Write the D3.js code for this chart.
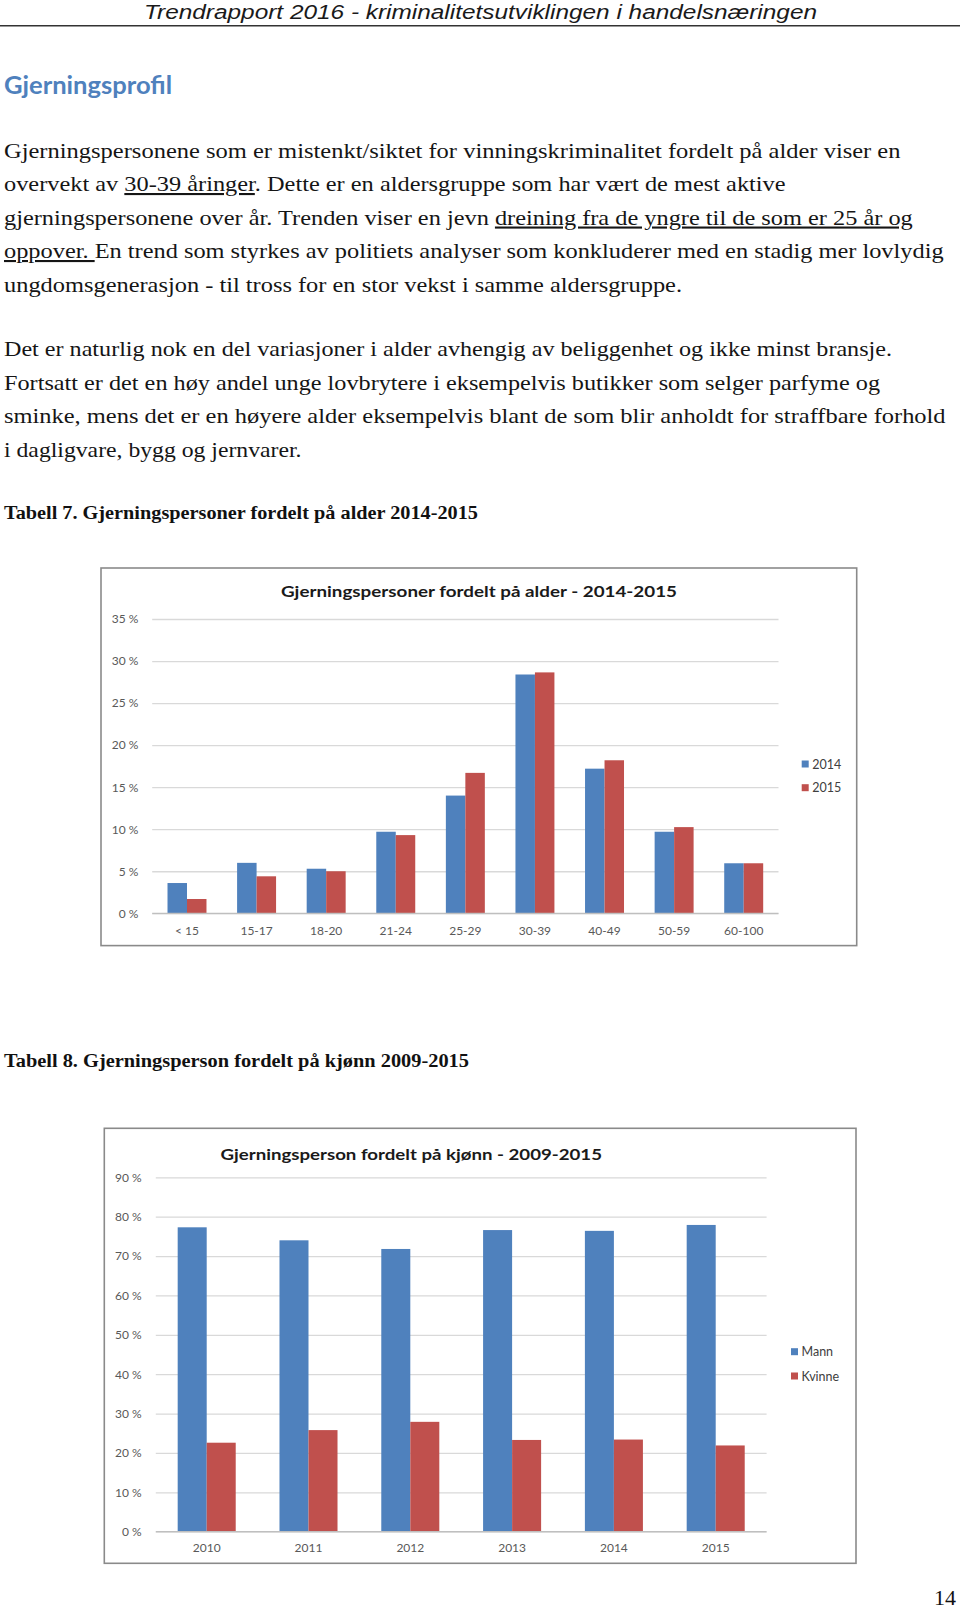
<!DOCTYPE html>
<html><head><meta charset="utf-8">
<script src="https://cdn.jsdelivr.net/npm/d3@7"></script>
<style>body{margin:0;background:#fff}svg{display:block}</style>
</head><body>
<svg id="page" width="960" height="1609"></svg>
<script>
// ---------- data ----------
const ageCategories = ["< 15","15-17","18-20","21-24","25-29","30-39","40-49","50-59","60-100"];
const age2014 = [3.6, 6.0, 5.3, 9.7, 14.0, 28.4, 17.2, 9.7, 5.95];
const age2015 = [1.7, 4.4, 5.0, 9.3, 16.7, 28.65, 18.2, 10.25, 5.95];
const ageSeries = ["2014","2015"];
const ageTicks = [0,5,10,15,20,25,30,35];

const years = ["2010","2011","2012","2013","2014","2015"];
const mann = [77.3, 74.0, 71.8, 76.6, 76.4, 77.9];
const kvinne = [22.6, 25.8, 27.9, 23.3, 23.4, 21.9];
const genderSeries = ["Mann","Kvinne"];
const genderTicks = [0,10,20,30,40,50,60,70,80,90];

const headerText = "Trendrapport 2016 - kriminalitetsutviklingen i handelsnæringen";
const headingText = "Gjerningsprofil";
const bodyLines = [
  [["Gjerningspersonene som er mistenkt/siktet for vinningskriminalitet fordelt på alder viser en",0]],
  [["overvekt av ",0],["30-39 åringer",1],[". Dette er en aldersgruppe som har vært de mest aktive",0]],
  [["gjerningspersonene over år. Trenden viser en jevn ",0],["dreining fra de yngre til de som er 25 år og",1]],
  [["oppover. ",1],["En trend som styrkes av politiets analyser som konkluderer med en stadig mer lovlydig",0]],
  [["ungdomsgenerasjon - til tross for en stor vekst i samme aldersgruppe.",0]],
  [["Det er naturlig nok en del variasjoner i alder avhengig av beliggenhet og ikke minst bransje.",0]],
  [["Fortsatt er det en høy andel unge lovbrytere i eksempelvis butikker som selger parfyme og",0]],
  [["sminke, mens det er en høyere alder eksempelvis blant de som blir anholdt for straffbare forhold",0]],
  [["i dagligvare, bygg og jernvarer.",0]]
];
const table7Caption = "Tabell 7. Gjerningspersoner fordelt på alder 2014-2015";
const table8Caption = "Tabell 8. Gjerningsperson fordelt på kjønn 2009-2015";
const chart1Title = "Gjerningspersoner fordelt på alder - 2014-2015";
const chart2Title = "Gjerningsperson fordelt på kjønn - 2009-2015";
const pageNumber = "14";

// ---------- layout ----------
const svg = d3.select("#page");
svg.append("rect").attr("width",960).attr("height",1609).attr("fill","#fff");

const serif = "'Liberation Serif','DejaVu Serif',serif";
const sans = "Lato,'Open Sans','Liberation Sans',sans-serif";

function fitText(sel, x, y, width){
  sel.attr("x",x).attr("y",y).attr("textLength",width).attr("lengthAdjust","spacingAndGlyphs");
  return sel;
}

// header
fitText(svg.append("text").text(headerText)
  .attr("font-family","'Liberation Sans Narrow','Liberation Sans',sans-serif").attr("font-style","italic")
  .attr("font-size",20.5).attr("fill","#1a1a1a"), 144, 19, 673);
svg.append("line").attr("x1",0).attr("x2",960).attr("y1",25.8).attr("y2",25.8)
  .attr("stroke","#333").attr("stroke-width",1.4);

// heading
fitText(svg.append("text").text(headingText)
  .attr("font-family",sans).attr("font-weight","bold")
  .attr("font-size",24).attr("fill","#4f81bd"), 4, 94, 168);

// body text
const bodyBase = [157.5,191,224.5,258,291.5,356,389.5,423,456.5];
const bodyRight = [900.5,785.6,912.8,943.6,682,892,880,945.6,301.5];
bodyLines.forEach((segs,i)=>{
  const t = svg.append("text").attr("font-family",serif).attr("font-size",21).attr("fill","#151515");
  segs.forEach(s=>{
    const ts = t.append("tspan").text(s[0]);
    if(s[1]) ts.attr("text-decoration","underline");
  });
  fitText(t, 4, bodyBase[i], bodyRight[i]-4);
  t.attr("xml:space","preserve").style("white-space","pre");
});

fitText(svg.append("text").text(table7Caption).attr("font-family",serif).attr("font-weight","bold")
  .attr("font-size",18).attr("fill","#111"), 4, 518.5, 474);
fitText(svg.append("text").text(table8Caption).attr("font-family",serif).attr("font-weight","bold")
  .attr("font-size",18).attr("fill","#111"), 4, 1067, 465);

svg.append("text").text(pageNumber).attr("font-family",serif).attr("font-size",22)
  .attr("fill","#111").attr("x",956).attr("y",1605).attr("text-anchor","end");

// ---------- chart helper ----------
const colors = ["#4f81bd","#c0504d"];
function drawChart(cfg){
  const g = svg.append("g");
  g.append("rect").attr("x",cfg.box[0]).attr("y",cfg.box[1]).attr("width",cfg.box[2]).attr("height",cfg.box[3])
    .attr("fill","#fff").attr("stroke","#8a8a8a").attr("stroke-width",1.6);
  fitText(g.append("text").text(cfg.title).attr("font-family",sans).attr("font-weight","bold")
    .attr("font-size",16).attr("fill","#1a1a1a"), cfg.titlePos[0], cfg.titlePos[1], cfg.titlePos[2]);

  const x = d3.scaleBand().domain(cfg.cats).range([cfg.left,cfg.right])
    .paddingInner(cfg.pad).paddingOuter(cfg.pad/2);
  const xs = d3.scaleBand().domain(cfg.series).range([0,x.bandwidth()]);
  const y = d3.scaleLinear().domain([0,cfg.ticks[cfg.ticks.length-1]]).range([cfg.bottom,cfg.top]);

  // gridlines
  const grid = g.append("g").attr("transform",`translate(${cfg.left},0)`)
    .call(d3.axisLeft(y).tickValues(cfg.ticks).tickSize(-(cfg.right-cfg.left)).tickFormat(""));
  grid.select(".domain").remove();
  grid.selectAll("line").attr("stroke","#d9d9d9").attr("stroke-width",1.3);

  // y labels
  const ya = g.append("g").attr("transform",`translate(${cfg.left},0)`)
    .call(d3.axisLeft(y).tickValues(cfg.ticks).tickSize(0).tickPadding(cfg.left-cfg.labelRight).tickFormat(d=>d+" %"));
  ya.select(".domain").remove();
  ya.selectAll("text").attr("font-family",sans).attr("font-size",12).attr("fill","#595959");

  // bars
  const rows = cfg.cats.map((c,i)=>({cat:c, vals:cfg.values.map((v,j)=>({s:cfg.series[j], v:v[i], j}))}));
  g.selectAll("g.grp").data(rows).join("g").attr("class","grp")
    .attr("transform",d=>`translate(${x(d.cat)},0)`)
    .selectAll("rect").data(d=>d.vals).join("rect")
    .attr("x",d=>xs(d.s)).attr("width",xs.bandwidth())
    .attr("y",d=>y(d.v)).attr("height",d=>y(0)-y(d.v))
    .attr("fill",d=>colors[d.j]);

  // baseline
  g.append("line").attr("x1",cfg.left).attr("x2",cfg.right).attr("y1",y(0)).attr("y2",y(0))
    .attr("stroke","#bfbfbf").attr("stroke-width",1.3);

  // x labels
  const xa = g.append("g").attr("transform",`translate(0,${cfg.bottom})`)
    .call(d3.axisBottom(x).tickSize(0).tickPadding(cfg.xPad));
  xa.select(".domain").remove();
  xa.selectAll("text").attr("font-family",sans).attr("font-size",12).attr("fill","#595959");

  // legend
  const lg = g.append("g");
  cfg.series.forEach((s,i)=>{
    const cy = cfg.legend[1] + i*cfg.legend[2];
    lg.append("rect").attr("x",cfg.legend[0]).attr("y",cy-3.5).attr("width",7).attr("height",7).attr("fill",colors[i]);
    lg.append("text").text(s).attr("x",cfg.legend[0]+10.5).attr("y",cy).attr("dy","0.36em")
      .attr("font-family",sans).attr("font-size",12.5).attr("fill","#404040");
  });
}

drawChart({
  box:[101,568,755.7,377.6], title:chart1Title, titlePos:[281,596.5,396],
  cats:ageCategories, series:ageSeries, values:[age2014,age2015], ticks:ageTicks,
  left:152.2, right:778.5, top:619, bottom:913.3, pad:0.44, labelRight:138.3, xPad:13,
  legend:[801.7,764,23.7]
});

drawChart({
  box:[104.3,1128.3,751.7,435], title:chart2Title, titlePos:[220.5,1159.5,381.5],
  cats:years, series:genderSeries, values:[mann,kvinne], ticks:genderTicks,
  left:155.8, right:766.6, top:1177.3, bottom:1531.7, pad:0.43, labelRight:141.7, xPad:11.5,
  legend:[791,1351.7,24.3]
});
</script>
</body></html>
